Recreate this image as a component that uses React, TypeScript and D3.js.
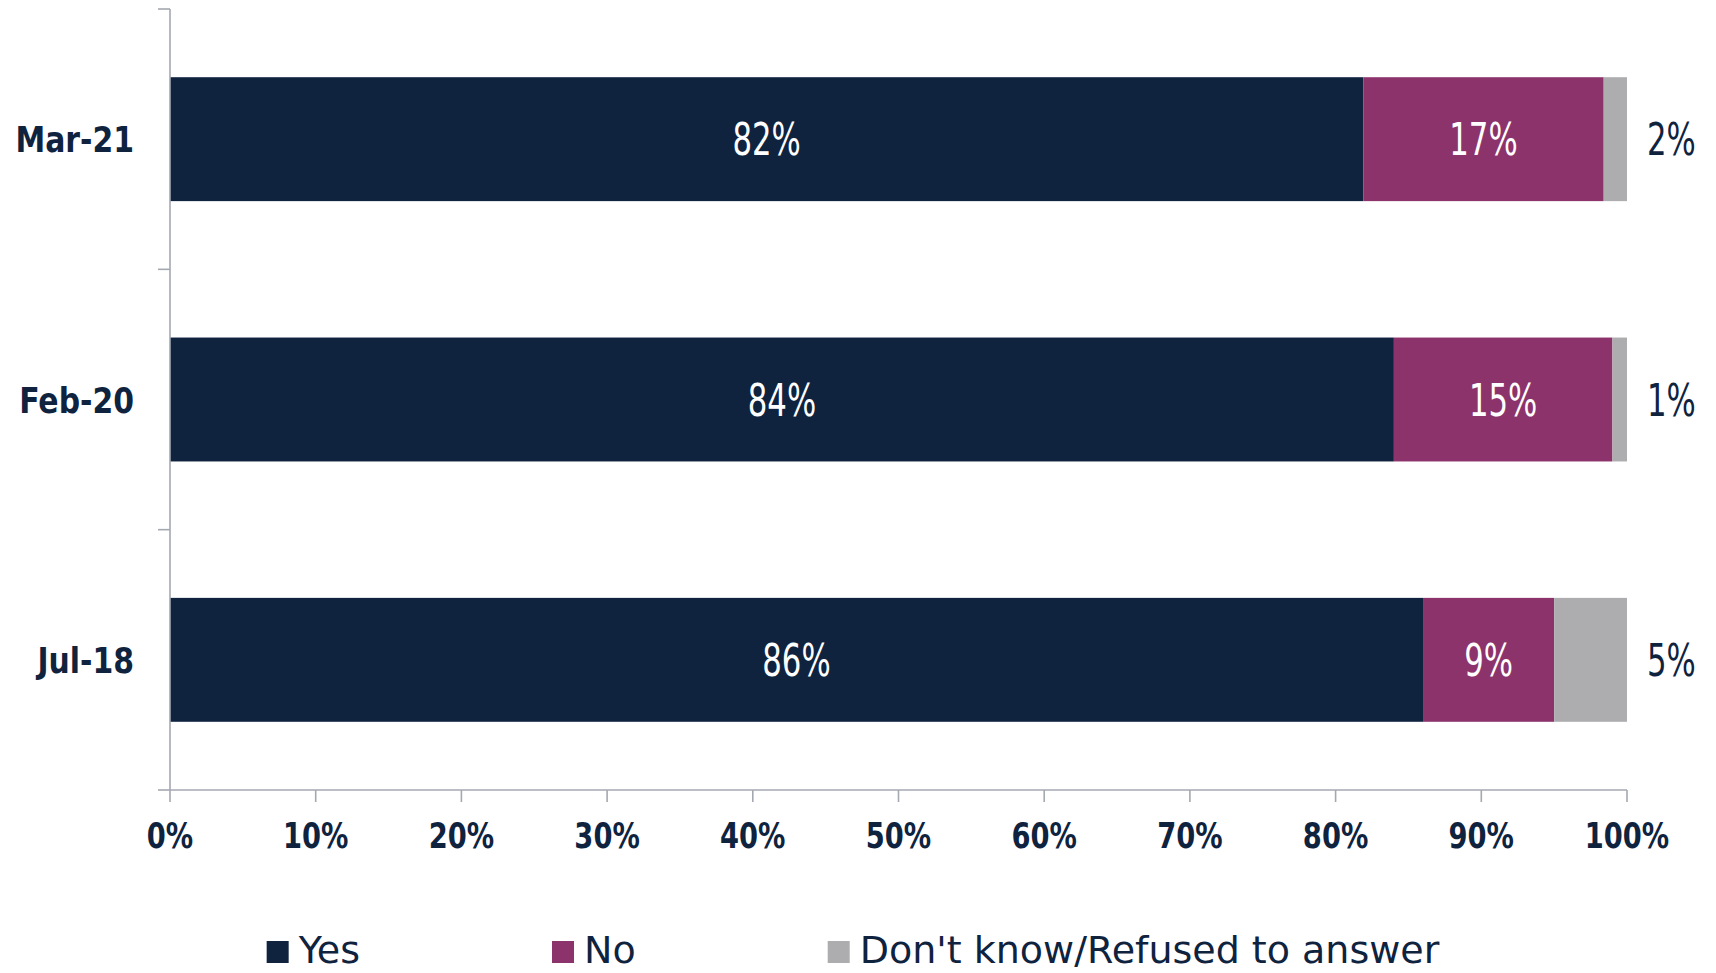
import React, { useEffect, useRef } from 'react';
import * as d3 from 'd3';

// survey waves, top to bottom
const categories = ['Mar-21', 'Feb-20', 'Jul-18'];
const seriesNames = ['Yes', 'No', "Don't know/Refused to answer"];
const yesValues = [81.9, 84.0, 86.0];
const noValues = [16.5, 15.0, 9.0];
const dontKnowValues = [1.6, 1.0, 5.0];
const tickValues = [0, 10, 20, 30, 40, 50, 60, 70, 80, 90, 100];
const tickLabels = ['0%', '10%', '20%', '30%', '40%', '50%', '60%', '70%', '80%', '90%', '100%'];

const colors = ['#0f233f', '#8c336c', '#adadaf'];
const textColor = '#0f233f';
const axisColor = '#a4a8b0';
const font = '"DejaVu Sans", sans-serif';

const W = 1716;
const H = 973;

const App: React.FC = () => {
  const svgRef = useRef<SVGSVGElement | null>(null);

  useEffect(() => {
    if (!svgRef.current) return;
    const svg = d3.select(svgRef.current);
    svg.selectAll('*').remove();

    const x = d3.scaleLinear().domain([0, 100]).range([170, 1627]);
    const y = d3.scaleBand<string>()
      .domain(categories)
      .range([9, 790])
      .paddingInner(0.524)
      .paddingOuter(0.262);

    const rows = categories.map((c, i) => ({
      cat: c,
      Yes: yesValues[i],
      No: noValues[i],
      DK: dontKnowValues[i],
    }));
    const keys = ['Yes', 'No', 'DK'];
    const stacked = d3.stack<any>().keys(keys)(rows);

    // squeezed text, like the narrow office font of the original
    const addText = (
      g: d3.Selection<SVGGElement, unknown, null, undefined>,
      tx: number, ty: number, str: string,
      size: number, weight: string, fill: string, anchor: string, sx: number,
    ) =>
      g.append('text')
        .attr('transform', `translate(${tx},${ty}) scale(${sx},1)`)
        .attr('font-family', font)
        .attr('font-size', size)
        .attr('font-weight', weight)
        .attr('fill', fill)
        .attr('text-anchor', anchor)
        .text(str);

    // bars
    const barG = svg.append('g');
    stacked.forEach((layer, li) => {
      barG.selectAll(null)
        .data(layer)
        .enter()
        .append('rect')
        .attr('x', d => x(d[0]))
        .attr('y', d => y(d.data.cat)!)
        .attr('width', d => x(d[1]) - x(d[0]))
        .attr('height', y.bandwidth())
        .attr('fill', colors[li]);
    });

    // axes
    const axisG = svg.append('g')
      .attr('stroke', axisColor)
      .attr('stroke-width', 1.6)
      .attr('fill', 'none');
    const [y0, y1] = y.range();
    axisG.append('line').attr('x1', x(0)).attr('x2', x(0)).attr('y1', y0).attr('y2', y1);
    axisG.append('line').attr('x1', x(0)).attr('x2', x(100)).attr('y1', y1).attr('y2', y1);
    const boundaries = [y0, ...categories.slice(1).map(c => y(c)! - (y.step() - y.bandwidth()) / 2), y1];
    boundaries.forEach(b => {
      axisG.append('line').attr('x1', x(0) - 12).attr('x2', x(0)).attr('y1', b).attr('y2', b);
    });
    tickValues.forEach(t => {
      axisG.append('line').attr('x1', x(t)).attr('x2', x(t)).attr('y1', y1).attr('y2', y1 + 12);
    });

    const textG = svg.append('g');
    tickValues.forEach((t, i) => {
      addText(textG, x(t), y1 + 58, tickLabels[i], 36, 'bold', textColor, 'middle', 0.76);
    });
    categories.forEach(c => {
      addText(textG, 134, y(c)! + y.bandwidth() / 2 + 13, c, 36, 'bold', textColor, 'end', 0.83);
    });

    // data labels
    stacked.forEach((layer, li) => {
      layer.forEach(d => {
        const cy = y(d.data.cat)! + y.bandwidth() / 2 + 16;
        const label = `${Math.round(d[1] - d[0])}%`;
        if (li < 2) {
          addText(textG, (x(d[0]) + x(d[1])) / 2, cy, label, 44, 'normal', '#ffffff', 'middle', 0.7);
        } else {
          addText(textG, x(100) + 20, cy, label, 44, 'normal', textColor, 'start', 0.7);
        }
      });
    });

    // legend
    const legG = svg.append('g');
    const sw = 22;
    const gapAfterSwatch = 10;
    const gapBetween = 192;
    const legSx = 1.0;
    const items = seriesNames.map((name, i) => {
      const g = legG.append('g');
      g.append('rect').attr('width', sw).attr('height', sw).attr('y', -sw).attr('fill', colors[i]);
      const t = addText(g, sw + gapAfterSwatch, 0, name, 38, 'normal', textColor, 'start', legSx);
      const tw = (t.node() as SVGTextElement).getComputedTextLength() * legSx;
      return { g, w: sw + gapAfterSwatch + tw };
    });
    const total = d3.sum(items, d => d.w) + gapBetween * (items.length - 1);
    let cx = 853 - total / 2;
    items.forEach(it => {
      it.g.attr('transform', `translate(${cx},963)`);
      cx += it.w + gapBetween;
    });
  }, []);

  return (
    <svg
      ref={svgRef}
      width={W}
      height={H}
      style={{ position: 'absolute', left: 0, top: 0, display: 'block', background: '#ffffff' }}
    />
  );
};

export default App;
